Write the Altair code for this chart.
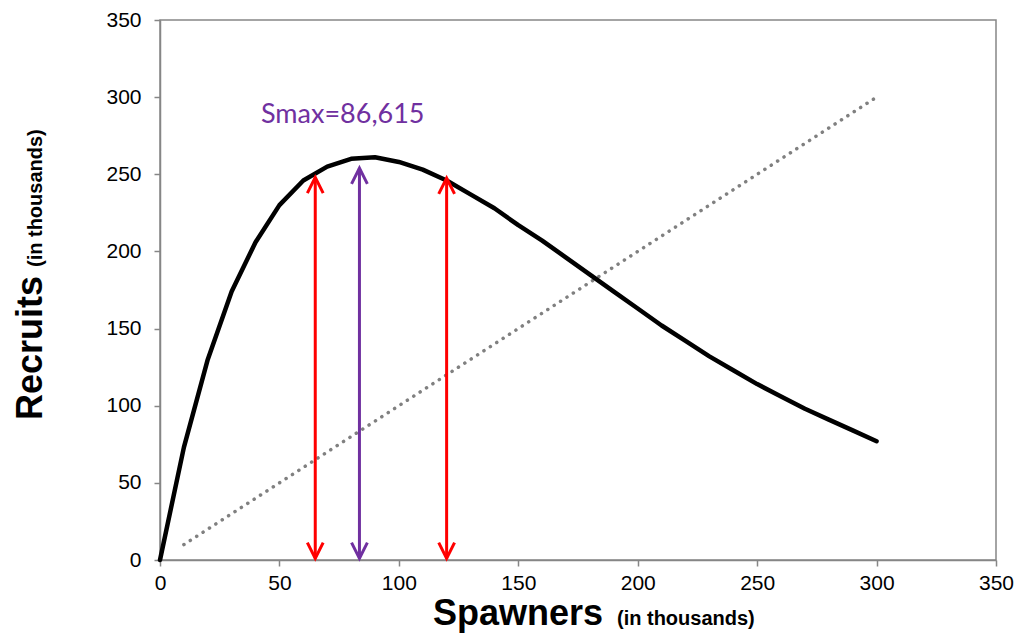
import altair as alt
import pandas as pd

# Ricker stock-recruit curve (thousands)
spawners = [0, 10, 20, 30, 40, 50, 60, 70, 80, 90, 100, 110, 120, 130, 140, 150,
            160, 170, 180, 190, 200, 210, 220, 230, 240, 250, 260, 270, 280, 290, 300]
recruits = [0, 73, 130, 174, 206, 230, 246, 255, 260, 261, 258, 253, 246, 237, 228, 217,
            207, 196, 185, 174, 163, 152, 142, 132, 123, 114, 106, 98, 91, 84, 77]

# 1:1 replacement line
rep_x = [10, 300]
rep_y = [10, 300]

# arrows
arrow_x = [65, 83.5, 120]
arrow_top = [248, 254, 247.5]
arrow_kind = ["range", "smax", "range"]
arrow_bottom = 1

label_text = "Smax=86,615"
ticks = [0, 50, 100, 150, 200, 250, 300, 350]

curve_df = pd.DataFrame({"S": spawners, "R": recruits})
rep_df = pd.DataFrame({"S": rep_x, "R": rep_y})
arrow_df = pd.DataFrame({"S": arrow_x, "top": arrow_top, "kind": arrow_kind,
                         "bottom": [arrow_bottom] * len(arrow_x)})
one = pd.DataFrame({"a": [0]})

axis_common = dict(grid=False, domainColor="#868686", domainWidth=1.5,
                   tickColor="#868686", tickWidth=1.5, tickSize=6,
                   labelColor="#000000", labelFont="Liberation Sans",
                   labelFontSize=21, labelFlush=False, labelOverlap=False,
                   title=None, values=ticks)

xs = alt.Scale(domain=[0, 350], nice=False)
ys = alt.Scale(domain=[0, 350], nice=False)
xenc = alt.X("S:Q", scale=xs, axis=alt.Axis(labelPadding=6, **axis_common))
yenc = alt.Y("R:Q", scale=ys, axis=alt.Axis(labelPadding=13, **axis_common))

color_scale = alt.Scale(domain=["range", "smax"], range=["#FF0000", "#7030A0"])

curve = alt.Chart(curve_df).mark_line(color="#000000", strokeWidth=4.5,
                                      strokeCap="round", strokeJoin="round").encode(
    x=xenc, y=yenc)

rep = alt.Chart(rep_df).mark_line(color="#808080", strokeWidth=3.5,
                                  strokeDash=[0.1, 7.5], strokeCap="round").encode(
    x=alt.X("S:Q", scale=xs), y=alt.Y("R:Q", scale=ys))

rules = alt.Chart(arrow_df).mark_rule(strokeWidth=3).encode(
    x=alt.X("S:Q", scale=xs),
    y=alt.Y("bottom:Q", scale=ys),
    y2="top:Q",
    color=alt.Color("kind:N", scale=color_scale, legend=None))

heads_up = alt.Chart(arrow_df).mark_point(
    shape="M-0.5,1L0,0L0.5,1", size=1000, filled=False, strokeWidth=3,
    opacity=1, strokeJoin="miter").encode(
    x=alt.X("S:Q", scale=xs),
    y=alt.Y("top:Q", scale=ys),
    stroke=alt.Stroke("kind:N", scale=color_scale, legend=None))

heads_down = alt.Chart(arrow_df).mark_point(
    shape="M-0.5,-1L0,0L0.5,-1", size=1000, filled=False, strokeWidth=3,
    opacity=1, strokeJoin="miter").encode(
    x=alt.X("S:Q", scale=xs),
    y=alt.Y("bottom:Q", scale=ys),
    stroke=alt.Stroke("kind:N", scale=color_scale, legend=None))

smax_txt = alt.Chart(one).mark_text(
    text=label_text, font="Lato", fontSize=27, color="#7030A0",
    align="left", baseline="alphabetic").encode(
    x=alt.value(101), y=alt.value(103))

x_title = alt.Chart(one).mark_text(
    text="Spawners", font="Liberation Sans", fontWeight="bold", fontSize=36,
    color="#000000", align="left", baseline="alphabetic").encode(
    x=alt.value(273), y=alt.value(605))
x_sub = alt.Chart(one).mark_text(
    text="(in thousands)", font="Liberation Sans", fontWeight="bold", fontSize=20,
    color="#000000", align="left", baseline="alphabetic").encode(
    x=alt.value(457), y=alt.value(605))

y_title = alt.Chart(one).mark_text(
    text="Recruits", font="Liberation Sans", fontWeight="bold", fontSize=36,
    color="#000000", align="left", baseline="alphabetic", angle=270).encode(
    x=alt.value(-118), y=alt.value(400))
y_sub = alt.Chart(one).mark_text(
    text="(in thousands)", font="Liberation Sans", fontWeight="bold", fontSize=20,
    color="#000000", align="left", baseline="alphabetic", angle=270).encode(
    x=alt.value(-118), y=alt.value(247))

chart = alt.layer(
    rep, curve, rules, heads_up, heads_down, smax_txt, x_title, x_sub, y_title, y_sub
).properties(
    width=836, height=540,
    padding={"left": 160, "top": 20, "right": 23, "bottom": 75},
    autosize=alt.AutoSizeParams(type="none"),
    background="#FFFFFF",
).configure_view(
    stroke="#868686", strokeWidth=1.5
)

chart.save("out.html", embed_options={"renderer": "svg", "actions": False})
